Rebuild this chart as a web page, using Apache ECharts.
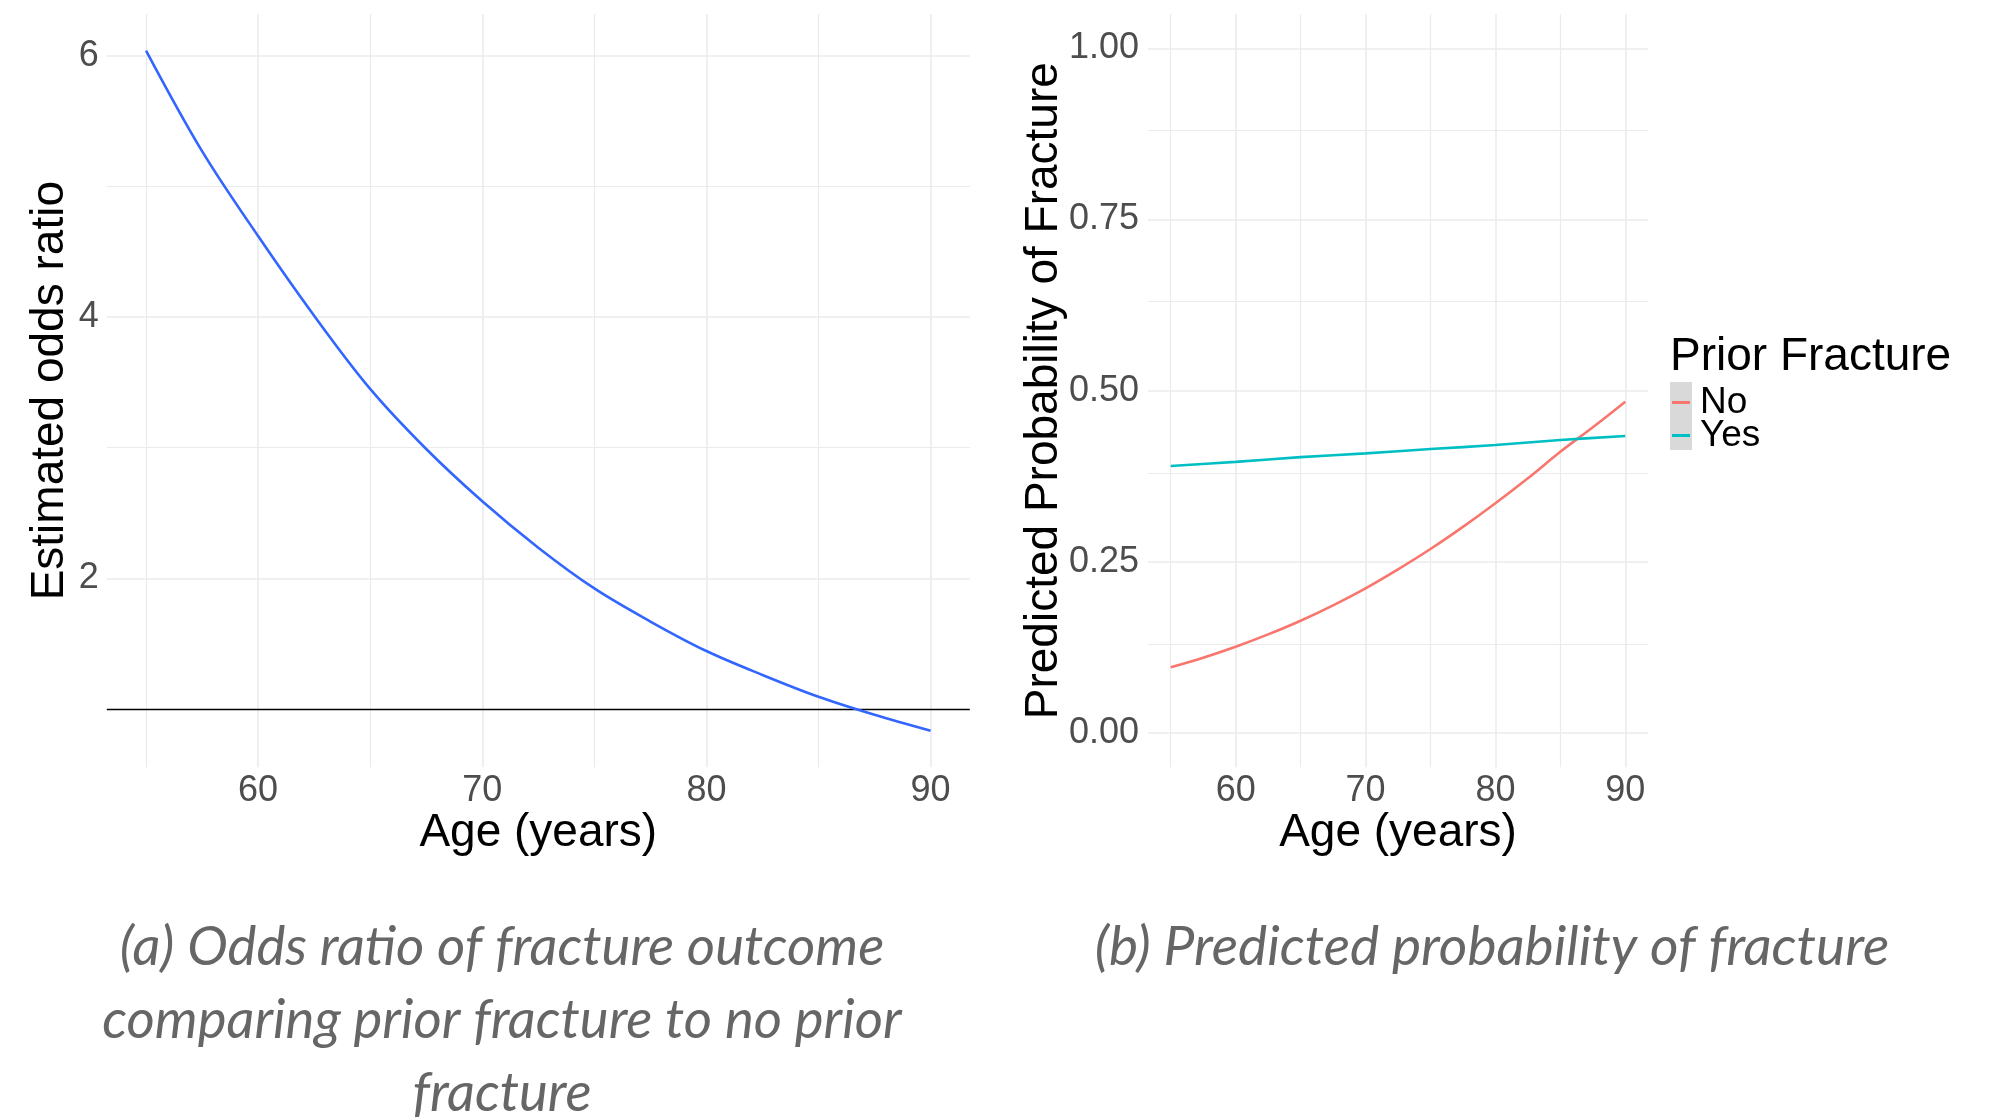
<!DOCTYPE html>
<html><head><meta charset="utf-8">
<script src="https://cdn.jsdelivr.net/npm/echarts@6/dist/echarts.min.js"></script>
<style>html,body{margin:0;padding:0;background:#fff}#c{width:1997px;height:1117px}</style>
</head><body><div id="c"></div>
<script>
// ---- data ----
const orAges = [55, 57.5, 60, 62.5, 65, 67.5, 70, 72.5, 75, 77.5, 80, 82.5, 85, 87.5, 90];
const oddsRatio = [6.04, 5.27, 4.62, 4.01, 3.45, 2.99, 2.59, 2.235, 1.923, 1.67, 1.444, 1.261, 1.094, 0.956, 0.834];
const noAges = [55, 57.5, 60, 62.5, 65, 67.5, 70, 72.5, 75, 77.5, 80, 82.5, 85, 87.5, 90];
const probNo = [0.096, 0.110, 0.126, 0.144, 0.164, 0.1865, 0.2113, 0.239, 0.2687, 0.301, 0.3355, 0.372, 0.4108, 0.4465, 0.4839];
const yesAges = [55, 60, 65, 70, 75, 80, 85, 90];
const probYes = [0.390, 0.396, 0.403, 0.4085, 0.4148, 0.4206, 0.428, 0.4338];
const seriesNames = ['No', 'Yes'];
const xTicks = [60, 70, 80, 90];
const xMinor = [55, 65, 75, 85];
const orTicks = [2, 4, 6];
const orMinor = [1, 3, 5];
const probTicks = [0, 0.25, 0.5, 0.75, 1];
const probMinor = [0.125, 0.375, 0.625, 0.875];
const refLine = 1;

const FONT = 'Liberation Sans';
const chart = echarts.init(document.getElementById('c'), null, {renderer: 'canvas'});

function zip(xs, ys) { return xs.map((x, i) => [x, ys[i]]); }
function gl(list, key, width) {
  return list.map(v => ({[key]: v, lineStyle: {color: '#ebebeb', width: width, type: 'solid'}}));
}
function gridSeries(idx, extra) {
  return {
    type: 'line', xAxisIndex: idx, yAxisIndex: idx, data: [], silent: true, z: 1,
    markLine: {
      silent: true, symbol: ['none', 'none'], z: 1, animation: false, label: {show: false},
      emphasis: {disabled: true},
      data: extra
    }
  };
}
const xAxisBase = {
  type: 'value', min: 53.25, max: 91.75,
  axisLine: {show: false}, axisTick: {show: false}, splitLine: {show: false},
  axisLabel: {customValues: xTicks, fontFamily: FONT, fontSize: 36, color: '#4d4d4d', margin: 6},
  name: 'Age (years)', nameLocation: 'middle', nameGap: 43, nameMoveOverlap: false,
  nameTextStyle: {fontFamily: FONT, fontSize: 46, color: '#000'}
};

const option = {
  backgroundColor: '#fff',
  animation: false,
  grid: [
    {left: 106.8, top: 14.2, width: 863, height: 753, containLabel: false},
    {left: 1148, top: 14.2, width: 500, height: 753, containLabel: false}
  ],
  xAxis: [
    Object.assign({}, xAxisBase, {gridIndex: 0}),
    Object.assign({}, xAxisBase, {gridIndex: 1})
  ],
  yAxis: [
    {
      type: 'value', gridIndex: 0, min: 0.555, max: 6.318,
      axisLine: {show: false}, axisTick: {show: false}, splitLine: {show: false},
      axisLabel: {customValues: orTicks, fontFamily: FONT, fontSize: 36, color: '#4d4d4d', margin: 8, padding: [8, 0, 0, 0]},
      name: 'Estimated odds ratio', nameLocation: 'middle', nameGap: 33, nameMoveOverlap: false,
      nameTextStyle: {fontFamily: FONT, fontSize: 46, color: '#000'}
    },
    {
      type: 'value', gridIndex: 1, min: -0.05, max: 1.05,
      axisLine: {show: false}, axisTick: {show: false}, splitLine: {show: false},
      axisLabel: {customValues: probTicks, formatter: v => v.toFixed(2), fontFamily: FONT, fontSize: 36, color: '#4d4d4d', margin: 9, padding: [8, 0, 0, 0]},
      name: 'Predicted Probability of Fracture', nameLocation: 'middle', nameGap: 81, nameMoveOverlap: false,
      nameTextStyle: {fontFamily: FONT, fontSize: 46, color: '#000'}
    }
  ],
  legend: {
    data: seriesNames, orient: 'vertical', left: 1672, top: 384, padding: 0,
    itemWidth: 18, itemHeight: 3, itemGap: -4, icon: 'rect', selectedMode: false,
    textStyle: {fontFamily: FONT, fontSize: 37, color: '#000', lineHeight: 34, padding: [0, 0, 0, 5]}
  },
  graphic: [
    {type: 'rect', z: 0, shape: {x: 1670, y: 382, width: 22, height: 68}, style: {fill: '#d9d9d9'}},
    {type: 'text', x: 1670, y: 357, style: {text: 'Prior Fracture', fontFamily: FONT, fontSize: 46, fill: '#000', align: 'left', verticalAlign: 'middle'}},
    {type: 'text', x: 502, y: 1020, style: {
      text: '(a) Odds ratio of fracture outcome\ncomparing prior fracture to no prior\nfracture',
      fontFamily: 'Lato', fontStyle: 'italic', fontSize: 54.5, lineHeight: 73, fill: '#666',
      align: 'center', verticalAlign: 'middle'}},
    {type: 'text', x: 1492, y: 947, style: {
      text: '(b) Predicted probability of fracture',
      fontFamily: 'Lato', fontStyle: 'italic', fontSize: 55, lineHeight: 73, fill: '#666',
      align: 'center', verticalAlign: 'middle'}}
  ],
  series: [
    gridSeries(0, [].concat(gl(xMinor, 'xAxis', 1.2), gl(xTicks, 'xAxis', 1.6), gl(orMinor, 'yAxis', 1.2), gl(orTicks, 'yAxis', 1.6),
      [{yAxis: refLine, lineStyle: {color: '#000', width: 1.4, type: 'solid'}}])),
    gridSeries(1, [].concat(gl(xMinor, 'xAxis', 1.2), gl(xTicks, 'xAxis', 1.6), gl(probMinor, 'yAxis', 1.2), gl(probTicks, 'yAxis', 1.6))),
    {
      name: 'Odds ratio', type: 'line', xAxisIndex: 0, yAxisIndex: 0, z: 10,
      data: zip(orAges, oddsRatio), smooth: 0.35, showSymbol: false,
      lineStyle: {color: '#3366FF', width: 2.6}, itemStyle: {color: '#3366FF'}
    },
    {
      name: seriesNames[0], type: 'line', xAxisIndex: 1, yAxisIndex: 1, z: 10,
      data: zip(noAges, probNo), smooth: 0.35, showSymbol: false,
      lineStyle: {color: '#F8766D', width: 2.6}, itemStyle: {color: '#F8766D'}
    },
    {
      name: seriesNames[1], type: 'line', xAxisIndex: 1, yAxisIndex: 1, z: 10,
      data: zip(yesAges, probYes), smooth: 0.35, showSymbol: false,
      lineStyle: {color: '#00BFC4', width: 2.6}, itemStyle: {color: '#00BFC4'}
    }
  ]
};
chart.setOption(option);
</script></body></html>
